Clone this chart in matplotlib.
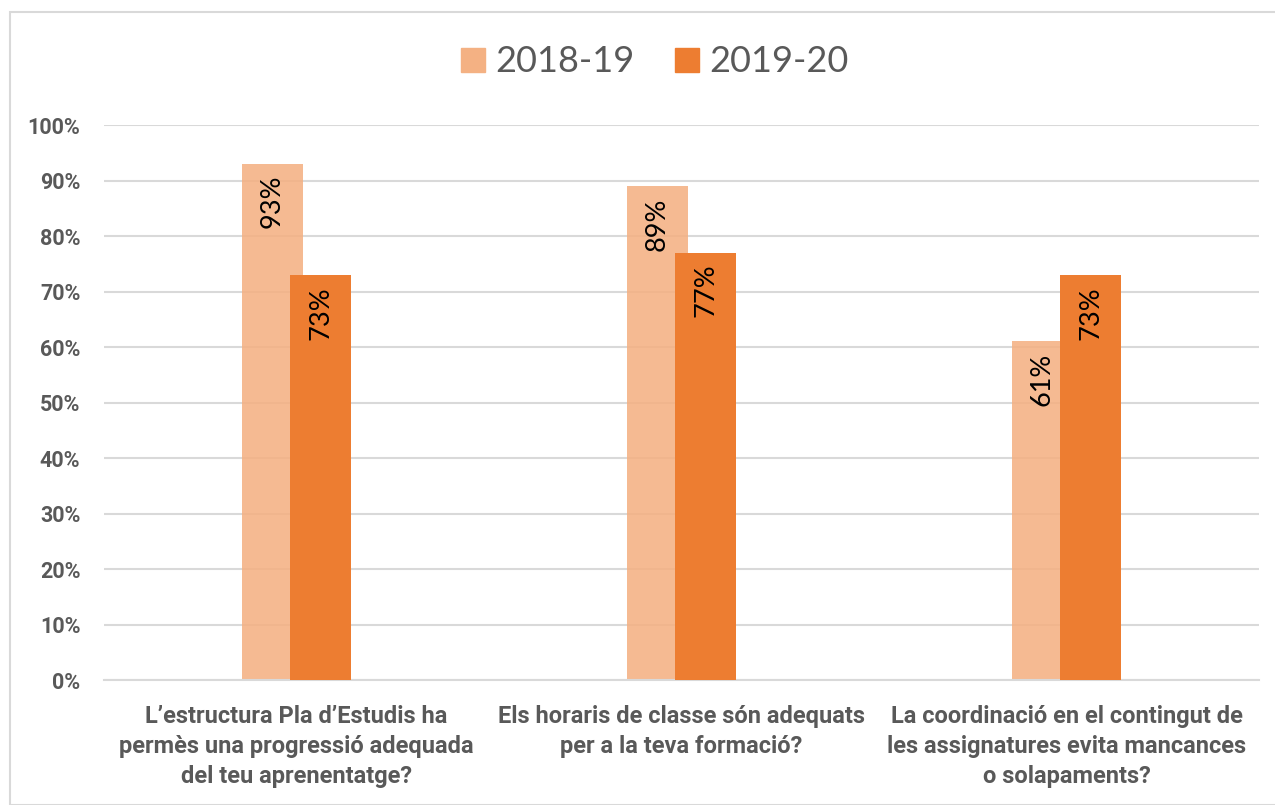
import matplotlib
matplotlib.use("Agg")
import matplotlib.pyplot as plt
from matplotlib.patches import Rectangle, Patch
import numpy as np

categories = [
    "L\u2019estructura Pla d\u2019Estudis ha\npermès una progressió adequada\ndel teu aprenentatge?",
    "Els horaris de classe són adequats\nper a la teva formació?",
    "La coordinació en el contingut de\nles assignatures evita mancances\no solapaments?",
]
series_names = ["2018-19", "2019-20"]
values_2018 = [0.93, 0.89, 0.61]
values_2019 = [0.73, 0.77, 0.73]
yticks = [0, 0.1, 0.2, 0.3, 0.4, 0.5, 0.6, 0.7, 0.8, 0.9, 1.0]

light = "#F4B183"
dark = "#ED7D31"
gray = "#595959"
grid = "#D9D9D9"

plt.rcParams['font.family'] = ['Lato', 'DejaVu Sans']
boldfam = ['Roboto', 'DejaVu Sans']

fig = plt.figure(figsize=(12.75, 8.05), dpi=100)
ax = fig.add_axes([104/1275, 1-680/805, (1259-104)/1275, (680-125)/805])

x = np.arange(len(categories))
w = 0.158
off = 0.063
b1 = ax.bar(x - off, values_2018, w, color=light, alpha=0.88, zorder=2, linewidth=0)
b2 = ax.bar(x + off, values_2019, w, color=dark, zorder=3, linewidth=0)

for bars, vals in ((b1, values_2018), (b2, values_2019)):
    for r, v in zip(bars, vals):
        ax.annotate(f"{round(v*100):d}%", (r.get_x() + r.get_width()/2, v),
                    xytext=(0, -8), textcoords="offset points",
                    rotation=90, ha="center", va="top", fontsize=19.5,
                    color="black", zorder=5)

ax.set_xlim(-0.5, 2.5)
ax.set_ylim(0, 1.0)
ax.set_yticks(yticks)
ax.set_yticklabels([f"{int(round(t*100))}%" for t in yticks],
                   fontsize=15.5, fontweight="bold", color=gray, family=boldfam)
ax.set_xticks(x)
ax.set_xticklabels(categories, fontsize=17, fontweight="bold", color=gray,
                   linespacing=1.38, family=boldfam)
ax.tick_params(axis="both", length=0)
ax.tick_params(axis="y", pad=17)
ax.tick_params(axis="x", pad=18)
ax.yaxis.grid(True, color=grid, linewidth=1.5, zorder=0)
ax.set_axisbelow(True)
for s in ["top", "right", "left"]:
    ax.spines[s].set_visible(False)
ax.spines["bottom"].set_color(grid)
ax.spines["bottom"].set_linewidth(1.5)

handles = [Patch(color=light, label=series_names[0]), Patch(color=dark, label=series_names[1])]
leg = fig.legend(handles=handles, loc="center", bbox_to_anchor=(0.5137, 1-62/805),
                 ncol=2, frameon=False, fontsize=26, handlelength=0.66,
                 handleheight=0.66, handletextpad=0.28, columnspacing=1.12,
                 labelcolor=gray)

fig.patches.append(Rectangle((10/1275, 0), 1.2, 1-12/805, transform=fig.transFigure,
                             fill=False, edgecolor=grid, linewidth=1.5))

fig.savefig("out.png", dpi=100)
